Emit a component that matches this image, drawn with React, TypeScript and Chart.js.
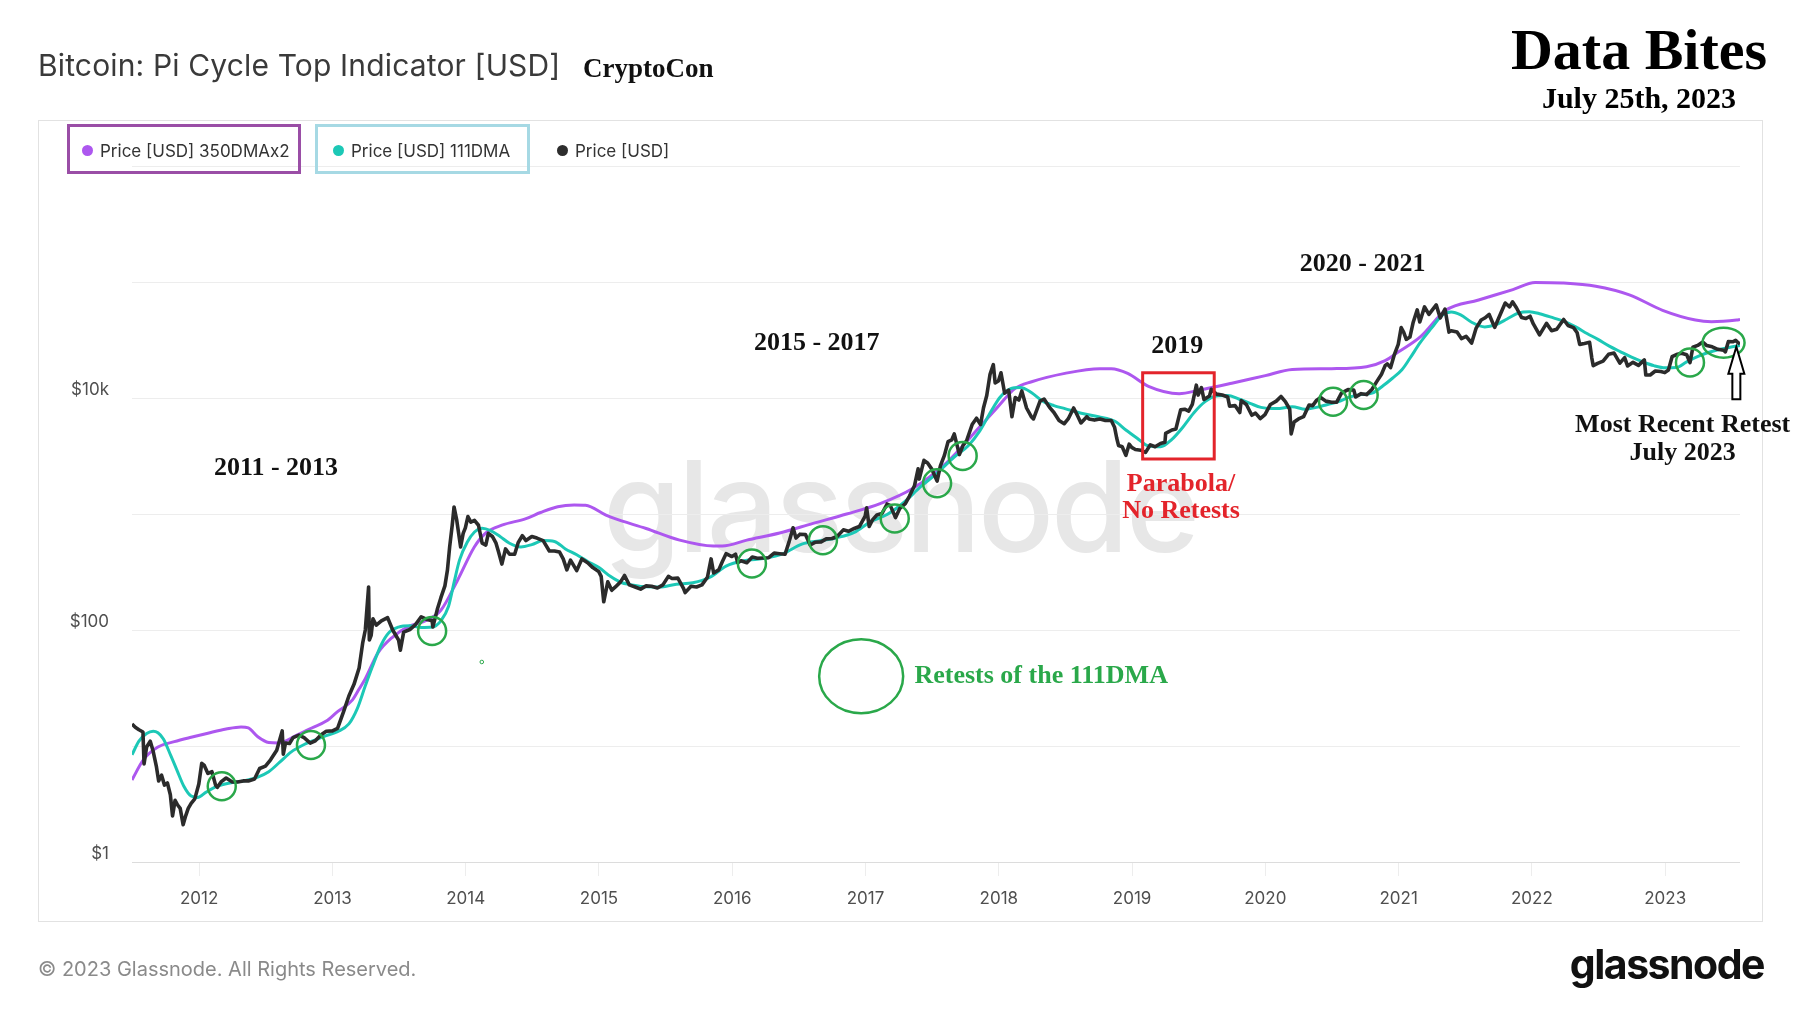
import React, { useEffect, useRef } from "react";
import { Chart, registerables } from "chart.js";

Chart.register(...registerables);

// ---------- data ----------
const yearTicks = [2012, 2013, 2014, 2015, 2016, 2017, 2018, 2019, 2020, 2021, 2022, 2023];
const yGrid = [1, 10, 100, 1000, 10000, 100000, 1000000];
const yLabels: Record<number, string> = { 1: "$1", 100: "$100", 10000: "$10k" };

const seriesNames = ["Price [USD] 350DMAx2", "Price [USD] 111DMA", "Price [USD]"];

const priceUsd: [string, number][] = [
  ["2011-07-01", 15.5], ["2011-07-10", 14.5], ["2011-07-20", 13.8], ["2011-07-31", 13.2], ["2011-08-03", 7.0], ["2011-08-10", 9.8],
  ["2011-08-20", 11.0], ["2011-08-28", 9.0], ["2011-09-06", 6.6], ["2011-09-12", 5.0], ["2011-09-20", 5.6], ["2011-09-28", 4.6],
  ["2011-10-06", 4.8], ["2011-10-14", 3.8], ["2011-10-20", 2.5], ["2011-10-27", 3.4], ["2011-11-03", 3.1], ["2011-11-10", 2.9],
  ["2011-11-18", 2.1], ["2011-11-25", 2.5], ["2011-12-02", 2.9], ["2011-12-10", 3.2], ["2011-12-20", 3.5], ["2011-12-31", 4.7],
  ["2012-01-08", 7.1], ["2012-01-15", 6.8], ["2012-01-25", 5.8], ["2012-02-05", 6.0], ["2012-02-15", 4.6], ["2012-02-20", 4.4],
  ["2012-03-01", 4.9], ["2012-03-15", 5.3], ["2012-04-01", 4.9], ["2012-04-15", 4.9], ["2012-05-01", 5.0], ["2012-05-15", 5.0],
  ["2012-06-01", 5.2], ["2012-06-15", 6.4], ["2012-07-01", 6.7], ["2012-07-15", 7.6], ["2012-08-01", 9.2], ["2012-08-16", 13.5],
  ["2012-08-19", 8.5], ["2012-08-25", 10.6], ["2012-09-05", 10.5], ["2012-09-15", 11.8], ["2012-10-01", 12.4], ["2012-10-15", 11.8],
  ["2012-11-01", 10.6], ["2012-11-15", 11.1], ["2012-12-01", 12.5], ["2012-12-15", 13.4],
  ["2013-01-01", 13.5], ["2013-01-15", 14.2], ["2013-02-01", 20], ["2013-02-15", 27], ["2013-03-01", 34], ["2013-03-15", 47],
  ["2013-03-25", 78], ["2013-04-01", 100], ["2013-04-10", 235], ["2013-04-12", 82], ["2013-04-17", 90], ["2013-04-22", 125],
  ["2013-05-01", 110], ["2013-05-15", 120], ["2013-06-01", 128], ["2013-06-15", 100], ["2013-07-01", 82], ["2013-07-06", 67],
  ["2013-07-15", 96], ["2013-08-01", 101], ["2013-08-15", 110], ["2013-09-01", 130], ["2013-09-15", 124], ["2013-10-01", 120],
  ["2013-10-03", 106], ["2013-10-15", 150], ["2013-10-25", 190], ["2013-11-05", 240], ["2013-11-12", 330], ["2013-11-18", 520],
  ["2013-11-25", 800], ["2013-11-30", 1150], ["2013-12-07", 900], ["2013-12-18", 520], ["2013-12-25", 680], ["2013-12-31", 760],
  ["2014-01-07", 950], ["2014-01-15", 850], ["2014-01-25", 880], ["2014-02-05", 800], ["2014-02-15", 560], ["2014-02-25", 540],
  ["2014-03-04", 680], ["2014-03-15", 640], ["2014-03-25", 560], ["2014-04-01", 470], ["2014-04-10", 370], ["2014-04-20", 500],
  ["2014-05-01", 450], ["2014-05-15", 450], ["2014-05-25", 570], ["2014-06-05", 650], ["2014-06-15", 590], ["2014-07-01", 640],
  ["2014-07-15", 620], ["2014-08-01", 590], ["2014-08-18", 480], ["2014-09-01", 480], ["2014-09-15", 470], ["2014-09-25", 410],
  ["2014-10-05", 330], ["2014-10-15", 400], ["2014-11-01", 325], ["2014-11-15", 410], ["2014-12-01", 380], ["2014-12-15", 345],
  ["2014-12-31", 320],
  ["2015-01-07", 290], ["2015-01-14", 175], ["2015-01-25", 260], ["2015-02-05", 220], ["2015-02-15", 235], ["2015-03-01", 260],
  ["2015-03-12", 295], ["2015-03-25", 245], ["2015-04-10", 235], ["2015-04-25", 225], ["2015-05-10", 240], ["2015-05-25", 238],
  ["2015-06-10", 230], ["2015-06-25", 245], ["2015-07-10", 290], ["2015-07-20", 278], ["2015-08-05", 280], ["2015-08-20", 230],
  ["2015-08-25", 210], ["2015-09-10", 238], ["2015-09-25", 235], ["2015-10-10", 245], ["2015-10-25", 285], ["2015-11-04", 410],
  ["2015-11-11", 310], ["2015-11-25", 330], ["2015-12-05", 390], ["2015-12-15", 455], ["2015-12-31", 430],
  ["2016-01-10", 450], ["2016-01-16", 380], ["2016-01-25", 395], ["2016-02-10", 380], ["2016-02-25", 425], ["2016-03-10", 415],
  ["2016-03-25", 418], ["2016-04-10", 420], ["2016-04-25", 460], ["2016-05-10", 455], ["2016-05-25", 450], ["2016-06-05", 575],
  ["2016-06-16", 760], ["2016-06-24", 620], ["2016-07-05", 670], ["2016-07-20", 665], ["2016-08-02", 540], ["2016-08-15", 570],
  ["2016-09-01", 575], ["2016-09-15", 610], ["2016-10-01", 615], ["2016-10-15", 640], ["2016-11-01", 730], ["2016-11-15", 710],
  ["2016-12-01", 750], ["2016-12-15", 780], ["2016-12-31", 960],
  ["2017-01-04", 1130], ["2017-01-11", 780], ["2017-01-20", 890], ["2017-02-01", 980], ["2017-02-15", 1010], ["2017-03-01", 1220],
  ["2017-03-10", 1180], ["2017-03-24", 930], ["2017-04-05", 1120], ["2017-04-20", 1230], ["2017-05-01", 1420], ["2017-05-15", 1750],
  ["2017-05-25", 2450], ["2017-05-28", 2000], ["2017-06-10", 2900], ["2017-06-20", 2750], ["2017-07-01", 2450], ["2017-07-16", 1920],
  ["2017-07-25", 2600], ["2017-08-05", 3200], ["2017-08-15", 4200], ["2017-08-25", 4350], ["2017-09-01", 4900], ["2017-09-15", 3250],
  ["2017-09-25", 3900], ["2017-10-05", 4300], ["2017-10-20", 5900], ["2017-11-01", 6700], ["2017-11-12", 5900], ["2017-11-20", 8200],
  ["2017-11-29", 10500], ["2017-12-08", 16000], ["2017-12-17", 19400], ["2017-12-22", 13500], ["2017-12-31", 14000],
  ["2018-01-07", 16500], ["2018-01-17", 11000], ["2018-01-28", 11700], ["2018-02-06", 6900], ["2018-02-15", 10100], ["2018-02-25", 9600],
  ["2018-03-05", 11500], ["2018-03-18", 8200], ["2018-03-31", 6900], ["2018-04-06", 6600], ["2018-04-24", 9400], ["2018-05-05", 9800],
  ["2018-05-20", 8300], ["2018-06-01", 7500], ["2018-06-15", 6400], ["2018-06-29", 6000], ["2018-07-10", 6600], ["2018-07-25", 8200],
  ["2018-08-05", 7000], ["2018-08-14", 6100], ["2018-08-30", 6900], ["2018-09-05", 6600], ["2018-09-20", 6450], ["2018-10-05", 6600],
  ["2018-10-20", 6400], ["2018-11-05", 6400], ["2018-11-14", 5600], ["2018-11-20", 4500], ["2018-11-25", 3900], ["2018-12-05", 3800],
  ["2018-12-15", 3200], ["2018-12-24", 4000], ["2018-12-31", 3750],
  ["2019-01-10", 3600], ["2019-01-25", 3550], ["2019-02-07", 3400], ["2019-02-20", 3950], ["2019-03-05", 3800], ["2019-03-20", 4050],
  ["2019-04-01", 4150], ["2019-04-03", 4950], ["2019-04-20", 5300], ["2019-05-01", 5400], ["2019-05-14", 7900], ["2019-05-25", 8000],
  ["2019-06-05", 7700], ["2019-06-15", 8800], ["2019-06-26", 12900], ["2019-07-01", 10600], ["2019-07-10", 12300], ["2019-07-17", 9700],
  ["2019-08-01", 10400], ["2019-08-06", 11900], ["2019-08-20", 10800], ["2019-09-05", 10600], ["2019-09-20", 10200], ["2019-09-25", 8500],
  ["2019-10-10", 8600], ["2019-10-23", 7500], ["2019-10-27", 9500], ["2019-11-10", 8800], ["2019-11-25", 7100], ["2019-12-05", 7400],
  ["2019-12-18", 6650], ["2019-12-31", 7200],
  ["2020-01-15", 8800], ["2020-01-31", 9400], ["2020-02-13", 10300], ["2020-02-25", 9300], ["2020-03-08", 8000], ["2020-03-12", 4900],
  ["2020-03-20", 6200], ["2020-04-01", 6600], ["2020-04-15", 6900], ["2020-04-30", 8700], ["2020-05-10", 8600], ["2020-05-20", 9500],
  ["2020-06-01", 10100], ["2020-06-15", 9400], ["2020-07-01", 9200], ["2020-07-15", 9200], ["2020-07-28", 11000], ["2020-08-15", 11800],
  ["2020-08-31", 11700], ["2020-09-05", 10200], ["2020-09-20", 10900], ["2020-10-05", 10700], ["2020-10-20", 11900], ["2020-11-01", 13700],
  ["2020-11-15", 16000], ["2020-11-25", 19000], ["2020-12-01", 19700], ["2020-12-10", 18300], ["2020-12-20", 23500], ["2020-12-31", 29000],
  ["2021-01-08", 40500], ["2021-01-15", 36800], ["2021-01-22", 32000], ["2021-02-01", 33500], ["2021-02-10", 45000], ["2021-02-21", 57500],
  ["2021-02-28", 45200], ["2021-03-13", 61000], ["2021-03-25", 52500], ["2021-04-14", 63500], ["2021-04-25", 49000], ["2021-05-08", 58500],
  ["2021-05-19", 37000], ["2021-05-25", 38000], ["2021-06-10", 37000], ["2021-06-22", 32500], ["2021-07-05", 34000], ["2021-07-20", 29800],
  ["2021-08-01", 39800], ["2021-08-15", 47000], ["2021-08-25", 48900], ["2021-09-06", 52500], ["2021-09-21", 40600], ["2021-10-01", 48000],
  ["2021-10-20", 65900], ["2021-11-01", 61000], ["2021-11-09", 67500], ["2021-11-20", 59700], ["2021-12-04", 49400], ["2021-12-15", 48400],
  ["2021-12-27", 50700],
  ["2022-01-05", 43500], ["2022-01-22", 35000], ["2022-02-10", 44000], ["2022-02-24", 38000], ["2022-03-10", 39200], ["2022-03-29", 47500],
  ["2022-04-10", 42200], ["2022-04-25", 40400], ["2022-05-05", 36500], ["2022-05-12", 29000], ["2022-05-25", 29500], ["2022-06-08", 30200],
  ["2022-06-14", 22200], ["2022-06-18", 19000], ["2022-06-30", 19900], ["2022-07-15", 20800], ["2022-07-30", 23800], ["2022-08-14", 24400],
  ["2022-08-30", 20000], ["2022-09-12", 22300], ["2022-09-20", 18900], ["2022-10-05", 20300], ["2022-10-20", 19100], ["2022-11-05", 21300],
  ["2022-11-09", 15800], ["2022-11-21", 15800], ["2022-12-05", 17100], ["2022-12-20", 16900], ["2022-12-31", 16550],
  ["2023-01-10", 17400], ["2023-01-20", 22700], ["2023-02-01", 23700], ["2023-02-15", 24300], ["2023-03-01", 23600], ["2023-03-10", 20200],
  ["2023-03-18", 27400], ["2023-03-31", 28400], ["2023-04-14", 30400], ["2023-04-25", 28300], ["2023-05-10", 27600], ["2023-05-25", 26300],
  ["2023-06-10", 25800], ["2023-06-15", 25000], ["2023-06-23", 30600], ["2023-07-05", 30500], ["2023-07-13", 31400], ["2023-07-20", 29900],
  ["2023-07-25", 29200],
];

const dma111: [string, number][] = [
  ["2011-07-01", 8.4], ["2011-07-20", 11.0], ["2011-08-10", 12.8], ["2011-08-28", 13.4], ["2011-09-10", 13.0], ["2011-09-25", 11.5],
  ["2011-10-15", 8.3], ["2011-11-01", 6.2], ["2011-11-20", 4.5], ["2011-12-10", 3.7], ["2011-12-28", 3.6], ["2012-01-20", 4.0],
  ["2012-02-20", 4.5], ["2012-03-25", 4.8], ["2012-05-01", 5.0], ["2012-06-10", 5.4], ["2012-07-10", 6.0], ["2012-08-10", 7.3],
  ["2012-09-10", 8.9], ["2012-10-10", 10.1], ["2012-11-15", 11.3], ["2012-12-15", 12.3], ["2013-01-15", 13.3], ["2013-02-15", 15.5],
  ["2013-03-10", 21], ["2013-04-01", 33], ["2013-04-20", 48], ["2013-05-15", 75], ["2013-06-05", 95], ["2013-07-01", 106],
  ["2013-08-01", 109], ["2013-09-01", 105], ["2013-10-01", 106], ["2013-10-25", 120], ["2013-11-15", 160], ["2013-12-01", 265],
  ["2013-12-15", 400], ["2014-01-05", 570], ["2014-01-25", 700], ["2014-02-15", 755], ["2014-03-10", 720], ["2014-04-05", 640],
  ["2014-05-01", 560], ["2014-06-01", 520], ["2014-07-01", 545], ["2014-08-01", 590], ["2014-09-01", 580], ["2014-10-01", 500],
  ["2014-11-01", 445], ["2014-12-01", 390], ["2015-01-01", 345], ["2015-02-01", 290], ["2015-03-01", 258], ["2015-04-01", 245],
  ["2015-05-01", 237], ["2015-06-15", 235], ["2015-08-01", 248], ["2015-09-15", 255], ["2015-11-01", 285], ["2015-12-15", 355],
  ["2016-02-01", 395], ["2016-04-01", 415], ["2016-05-20", 455], ["2016-07-10", 550], ["2016-09-01", 590], ["2016-10-15", 625],
  ["2016-12-01", 695], ["2017-01-15", 860], ["2017-03-01", 990], ["2017-04-15", 1250], ["2017-06-01", 1720], ["2017-07-15", 2240],
  ["2017-09-01", 3100], ["2017-10-10", 3900], ["2017-11-10", 5200], ["2017-12-10", 7600], ["2018-01-05", 10200], ["2018-02-01", 12000],
  ["2018-03-01", 12300], ["2018-04-01", 11100], ["2018-05-01", 9400], ["2018-06-01", 8600], ["2018-07-01", 8100], ["2018-08-15", 7400],
  ["2018-10-01", 6900], ["2018-11-15", 6300], ["2018-12-15", 5300], ["2019-01-15", 4500], ["2019-02-15", 3850], ["2019-03-20", 3800],
  ["2019-04-20", 4400], ["2019-05-20", 5600], ["2019-06-20", 7500], ["2019-07-20", 9300], ["2019-08-20", 10400], ["2019-09-20", 10500],
  ["2019-10-20", 9800], ["2019-11-20", 9000], ["2019-12-20", 8300], ["2020-02-01", 8100], ["2020-03-15", 8400], ["2020-04-20", 8000],
  ["2020-05-20", 8300], ["2020-06-20", 8800], ["2020-07-20", 9300], ["2020-08-20", 10200], ["2020-09-20", 10700], ["2020-10-20", 11000],
  ["2020-11-20", 12800], ["2020-12-15", 14800], ["2021-01-10", 17500], ["2021-02-01", 22000], ["2021-03-01", 30000], ["2021-04-01", 40000],
  ["2021-05-01", 52000], ["2021-05-25", 55000], ["2021-06-20", 52000], ["2021-07-20", 45000], ["2021-08-25", 41000], ["2021-09-25", 43000],
  ["2021-10-25", 48000], ["2021-11-25", 54000], ["2021-12-25", 55500], ["2022-01-25", 53000], ["2022-03-01", 49000], ["2022-04-01", 45500],
  ["2022-05-01", 41000], ["2022-06-01", 36000], ["2022-07-01", 32000], ["2022-08-01", 28000], ["2022-09-01", 25000], ["2022-10-01", 22500],
  ["2022-11-01", 20500], ["2022-12-01", 19000], ["2023-01-01", 18200], ["2023-02-01", 18300], ["2023-03-01", 20500], ["2023-04-01", 22800],
  ["2023-05-01", 24800], ["2023-06-01", 26300], ["2023-07-01", 27500], ["2023-07-25", 28300],
];

const dma350x2: [string, number][] = [
  ["2011-07-01", 5.1], ["2011-08-01", 7.6], ["2011-09-10", 9.8], ["2011-10-25", 10.9], ["2011-12-10", 11.9], ["2012-01-25", 12.9],
  ["2012-03-15", 14.0], ["2012-04-25", 14.6], ["2012-05-15", 14.3], ["2012-06-10", 12.0], ["2012-07-10", 10.7], ["2012-08-05", 10.6],
  ["2012-09-25", 12.4], ["2012-11-05", 14.3], ["2012-12-15", 16.4], ["2013-01-15", 19.8], ["2013-02-25", 25], ["2013-03-15", 31],
  ["2013-04-01", 38], ["2013-05-05", 63], ["2013-06-15", 87], ["2013-07-25", 106], ["2013-09-15", 121], ["2013-10-25", 148],
  ["2013-12-10", 270], ["2014-01-25", 522], ["2014-02-25", 686], ["2014-04-10", 801], ["2014-06-15", 913], ["2014-07-25", 1030],
  ["2014-09-10", 1156], ["2014-10-25", 1196], ["2014-11-25", 1190], ["2015-01-20", 980], ["2015-02-10", 920], ["2015-05-10", 750],
  ["2015-08-10", 595], ["2015-11-10", 530], ["2015-12-05", 530], ["2016-02-10", 595], ["2016-05-10", 685], ["2016-08-10", 830],
  ["2016-11-10", 1000], ["2017-02-10", 1230], ["2017-05-10", 1660], ["2017-08-10", 2750], ["2017-11-10", 5650], ["2017-12-28", 8300],
  ["2018-02-15", 12100], ["2018-04-01", 13800], ["2018-07-01", 16300], ["2018-10-05", 17900], ["2018-11-05", 17900], ["2018-12-20", 16300],
  ["2019-02-15", 12600], ["2019-05-10", 10900], ["2019-07-05", 11700], ["2019-10-01", 13400], ["2020-01-01", 15600], ["2020-03-15", 17600],
  ["2020-07-01", 17900], ["2020-10-05", 18600], ["2020-11-25", 21000], ["2021-01-01", 25000], ["2021-03-03", 34000], ["2021-05-10", 57000],
  ["2021-08-08", 70000], ["2021-11-10", 86000], ["2022-01-10", 99000], ["2022-03-25", 98000], ["2022-06-25", 92000], ["2022-09-25", 77500],
  ["2022-12-25", 57000], ["2023-03-25", 47000], ["2023-05-08", 45500], ["2023-07-16", 47000], ["2023-07-25", 47500],
];

// 111DMA retests (date, price)
const retestDates = ["2012-03-03", "2012-11-03", "2013-10-01", "2016-02-24", "2016-09-06", "2017-03-22", "2017-07-16", "2017-09-24", "2020-07-05", "2020-09-27", "2023-03-10", "2023-06-10"];
const retestPrices = [4.5, 10.2, 98, 375, 595, 913, 1840, 3170, 9300, 10600, 20200, 30000];

const periodLabels = ["2011 - 2013", "2015 - 2017", "2019", "2020 - 2021"];
const periodDates = ["2012-07-30", "2016-08-20", "2019-05-05", "2020-09-24"];
const periodPrices = [2500, 29800, 28000, 143000];

// ---------- helpers ----------
const toYear = (d: string): number => {
  const [y, m, dd] = d.split("-").map(Number);
  const s = Date.UTC(y, 0, 1);
  const e = Date.UTC(y + 1, 0, 1);
  return y + (Date.UTC(y, m - 1, dd) - s) / (e - s);
};
const toPoints = (arr: [string, number][]) => arr.map(([d, v]) => ({ x: toYear(d), y: v }));

const PURPLE = "#ad57ef";
const TEAL = "#1cc8b6";
const BLACK = "#2b2b2b";
const GREEN = "#2aa84a";
const RED = "#e3242b";
const SERIF = "'Liberation Serif', 'DejaVu Serif', serif";
const SANS = "Inter, 'Open Sans', sans-serif";

const annotationPlugin = {
  id: "annotations",
  afterDatasetsDraw(chart: any) {
    const { ctx } = chart;
    const xs = chart.scales.x;
    const ys = chart.scales.y;
    const px = (d: string) => xs.getPixelForValue(toYear(d));
    const py = (v: number) => ys.getPixelForValue(v);
    ctx.save();

    // retest circles
    ctx.strokeStyle = GREEN;
    ctx.lineWidth = 2.5;
    retestDates.forEach((d, i) => {
      const last = i === retestDates.length - 1;
      ctx.beginPath();
      ctx.ellipse(px(d), py(retestPrices[i]), last ? 21 : 14, last ? 15 : 14, 0, 0, Math.PI * 2);
      ctx.stroke();
    });
    // tiny stray circle
    ctx.lineWidth = 1;
    ctx.beginPath();
    ctx.arc(px("2014-02-14"), py(53), 1.8, 0, Math.PI * 2);
    ctx.stroke();

    // legend ellipse for retests
    ctx.lineWidth = 2.5;
    ctx.beginPath();
    ctx.ellipse(px("2016-12-20"), py(40), 42, 37, 0, 0, Math.PI * 2);
    ctx.stroke();

    // red box
    ctx.strokeStyle = RED;
    ctx.lineWidth = 3;
    const rx1 = px("2019-01-30");
    const rx2 = px("2019-08-14");
    const ry1 = py(16500);
    const ry2 = py(2980);
    ctx.strokeRect(rx1, ry1, rx2 - rx1, ry2 - ry1);

    // arrow
    const ax = px("2023-07-15");
    const aTop = py(27700);
    const aBot = py(9750);
    const headH = 27;
    ctx.beginPath();
    ctx.moveTo(ax, aTop);
    ctx.lineTo(ax + 8, aTop + headH);
    ctx.lineTo(ax + 4, aTop + headH);
    ctx.lineTo(ax + 4, aBot);
    ctx.lineTo(ax - 4, aBot);
    ctx.lineTo(ax - 4, aTop + headH);
    ctx.lineTo(ax - 8, aTop + headH);
    ctx.closePath();
    ctx.fillStyle = "#ffffff";
    ctx.fill();
    ctx.strokeStyle = "#000000";
    ctx.lineWidth = 2;
    ctx.stroke();

    // texts
    ctx.textBaseline = "middle";
    ctx.textAlign = "center";
    ctx.font = `bold 26px ${SERIF}`;
    ctx.fillStyle = "#111111";
    periodLabels.forEach((t, i) => ctx.fillText(t, px(periodDates[i]), py(periodPrices[i])));
    ctx.fillText("Most Recent Retest", px("2023-02-18"), py(5850));
    ctx.fillText("July 2023", px("2023-02-18"), py(3360));
    ctx.fillStyle = RED;
    ctx.fillText("Parabola/", px("2019-05-15"), py(1815));
    ctx.fillText("No Retests", px("2019-05-15"), py(1061));
    ctx.fillStyle = GREEN;
    ctx.textAlign = "left";
    ctx.fillText("Retests of the 111DMA", px("2017-05-15"), py(40));
    ctx.restore();
  },
};

const abs = (s: React.CSSProperties): React.CSSProperties => ({ position: "absolute", whiteSpace: "nowrap", lineHeight: 1, ...s });

export default function App() {
  const ref = useRef<HTMLCanvasElement | null>(null);

  useEffect(() => {
    if (!ref.current) return;
    const chart = new Chart(ref.current, {
      type: "line",
      data: {
        datasets: [
          {
            label: seriesNames[0],
            data: toPoints(dma350x2),
            borderColor: PURPLE,
            borderWidth: 3,
            pointRadius: 0,
            cubicInterpolationMode: "monotone",
            order: 2,
          },
          {
            label: seriesNames[1],
            data: toPoints(dma111),
            borderColor: TEAL,
            borderWidth: 3,
            pointRadius: 0,
            cubicInterpolationMode: "monotone",
            order: 1,
          },
          {
            label: seriesNames[2],
            data: toPoints(priceUsd),
            borderColor: BLACK,
            borderWidth: 3.6,
            pointRadius: 0,
            tension: 0,
            borderJoinStyle: "round",
            order: 0,
          },
        ],
      } as any,
      options: {
        responsive: false,
        animation: false,
        events: [],
        layout: { padding: { left: 0, top: 166, right: 60, bottom: 101 } },
        plugins: { legend: { display: false }, tooltip: { enabled: false }, title: { display: false } },
        scales: {
          x: {
            type: "linear",
            min: toYear("2011-07-01"),
            max: toYear("2023-07-25"),
            afterBuildTicks: (s: any) => {
              s.ticks = yearTicks.map((v) => ({ value: v }));
            },
            afterFit: (s: any) => {
              s.height = 50;
            },
            ticks: {
              callback: (v: any) => String(v),
              font: { family: SANS, size: 17 },
              color: "#4f4f4f",
              padding: 13,
              maxRotation: 0,
              autoSkip: false,
            },
            grid: { drawOnChartArea: false, drawTicks: true, tickLength: 14, color: "#ededed" },
            border: { display: false },
          },
          y: {
            type: "logarithmic",
            min: 1,
            max: 1000000,
            afterBuildTicks: (s: any) => {
              s.ticks = yGrid.map((v) => ({ value: v }));
            },
            afterFit: (s: any) => {
              s.width = 132;
            },
            ticks: {
              callback: (v: any) => yLabels[v] ?? "",
              font: { family: SANS, size: 17 },
              color: "#4f4f4f",
              padding: 23,
              labelOffset: -8,
              autoSkip: false,
            },
            grid: {
              drawTicks: false,
              color: (c: any) => (c.tick && c.tick.value === 1 ? "#dcdcdc" : "#ededed"),
              lineWidth: 1,
            },
            border: { display: false },
          },
        },
      } as any,
      plugins: [annotationPlugin],
    });
    return () => chart.destroy();
  }, []);

  return (
    <div style={{ position: "absolute", left: 0, top: 0, width: 1800, height: 1013, background: "#ffffff", overflow: "hidden" }}>
      {/* panel */}
      <div style={{ position: "absolute", left: 38, top: 120, width: 1725, height: 802, border: "1px solid #e2e2e2", boxSizing: "border-box" }} />
      {/* watermark */}
      <div style={abs({ left: 900, top: 443, transform: "translateX(-50%)", fontFamily: SANS, fontWeight: 500, fontSize: 126, color: "#e7e7e7", letterSpacing: -3 })}>glassnode</div>
      <canvas ref={ref} width={1800} height={1013} style={{ position: "absolute", left: 0, top: 0, width: 1800, height: 1013 }} />

      {/* headings */}
      <div style={abs({ left: 38, top: 49.5, fontFamily: SANS, fontSize: 30, color: "#3a3a3a", letterSpacing: 0.15 })}>Bitcoin: Pi Cycle Top Indicator [USD]</div>
      <div style={abs({ left: 583, top: 55, fontFamily: SERIF, fontWeight: 700, fontSize: 27, color: "#111" })}>CryptoCon</div>
      <div style={abs({ left: 1639, top: 21, transform: "translateX(-50%)", fontFamily: SERIF, fontWeight: 700, fontSize: 58, color: "#000" })}>Data Bites</div>
      <div style={abs({ left: 1639, top: 83, transform: "translateX(-50%)", fontFamily: SERIF, fontWeight: 700, fontSize: 30, color: "#000" })}>July 25th, 2023</div>

      {/* legend */}
      <div style={{ position: "absolute", left: 67, top: 124, width: 234, height: 50, border: "3px solid #9a4ea6", boxSizing: "border-box" }} />
      <div style={{ position: "absolute", left: 315, top: 124, width: 215, height: 50, border: "3px solid #a6d9e4", boxSizing: "border-box" }} />
      {[
        { dot: 87, text: 100, color: PURPLE, name: seriesNames[0] },
        { dot: 338, text: 351, color: TEAL, name: seriesNames[1] },
        { dot: 562, text: 575, color: "#2d2d2d", name: seriesNames[2] },
      ].map((it) => (
        <React.Fragment key={it.name}>
          <div style={{ position: "absolute", left: it.dot - 5.5, top: 150 - 5.5, width: 11, height: 11, borderRadius: "50%", background: it.color }} />
          <div style={abs({ left: it.text, top: 142.5, fontFamily: SANS, fontSize: 17, color: "#333" })}>{it.name}</div>
        </React.Fragment>
      ))}

      {/* footer */}
      <div style={abs({ left: 38, top: 959, fontFamily: SANS, fontSize: 20, color: "#8a8a8a" })}>© 2023 Glassnode. All Rights Reserved.</div>
      <div style={abs({ right: 36, top: 944, fontFamily: SANS, fontWeight: 700, fontSize: 41, color: "#111", letterSpacing: -1.5 })}>glassnode</div>
    </div>
  );
}
